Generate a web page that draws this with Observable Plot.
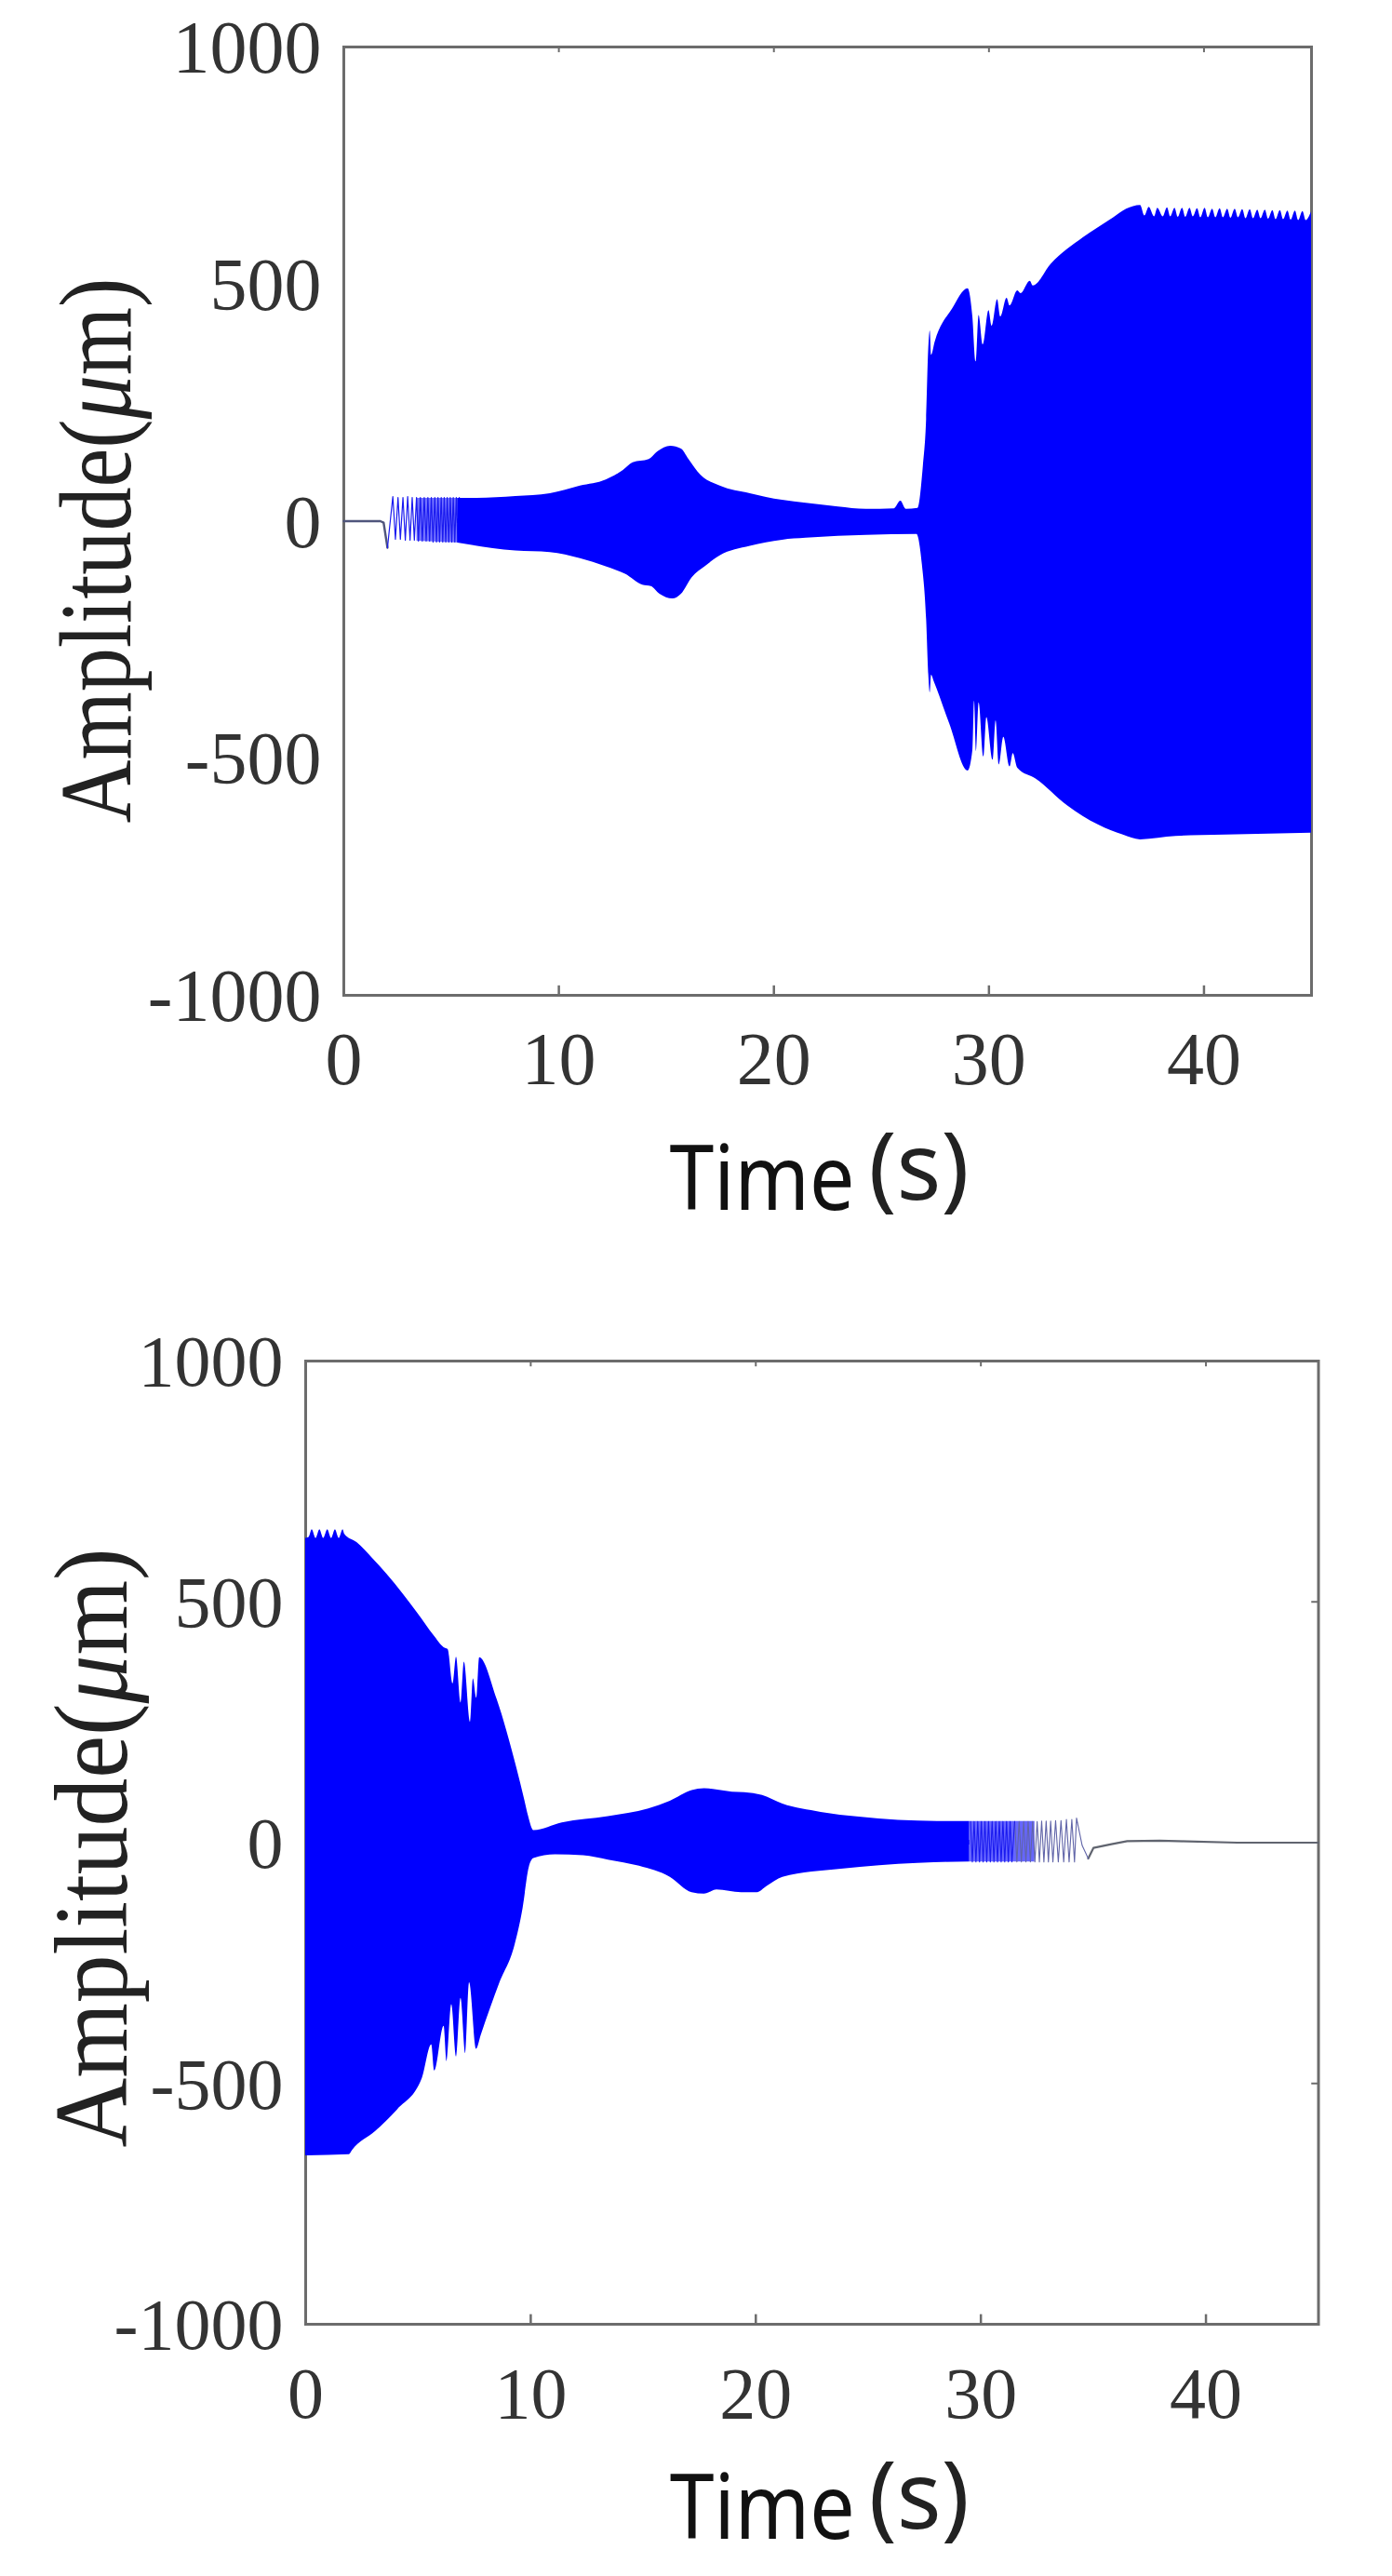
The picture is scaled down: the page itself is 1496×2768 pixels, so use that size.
<!DOCTYPE html>
<html><head><meta charset="utf-8">
<script src="https://cdn.jsdelivr.net/npm/d3@7"></script>
<script src="https://cdn.jsdelivr.net/npm/@observablehq/plot@0.6"></script>
<style>
html,body{margin:0;padding:0;background:#fff}
svg{display:block;filter:blur(0.7px)}
</style></head><body><div id="chart"></div>
<script>
const xTicks=[0,10,20,30,40];
const yTicks=[-1000,-500,0,500,1000];
const xLabelMain="Time", xLabelUnit="(s)", yLabel="Amplitude(μm)";

// Upper chart: envelope
const t1Up=[5.3,6.2,8,9.6,11,12.2,13,13.45,14.2,14.6,15.2,15.7,16.05,16.6,17.5,18.9,20.4,21.5,23,24.3,25.6,25.9,26.15,26.7,26.95,27.1,27.2,27.27,27.33,27.5,28.3,29.03,29.25,29.4,29.54,29.73,30,30.15,30.4,30.55,30.84,30.98,31.34,31.49,31.92,32.06,32.9,34.4,35.8,36.4,37.05,37.25,37.45,37.7,37.85,38.1,38.3,38.45,38.65,38.8,39.0,39.15,39.35,39.5,39.7,39.85,40.05,40.2,40.4,40.55,40.75,40.9,41.1,41.25,41.45,41.6,41.8,41.95,42.15,42.3,42.5,42.65,42.85,43.0,43.2,43.35,43.55,43.7,43.9,44.05,44.25,44.4,44.6,44.75,45];
const a1Up=[48,48,52,58,74,87,107,123,130,146,158,152,130,97,74,58,44,38,30,25,26,42,25,27,117,215,365,401,350,378,447,490,431,336,434,372,444,411,467,431,470,454,486,480,506,496,542,598,640,658,666,644,662,642,660,642,661,642,660,641,660,641,660,642,659,640,660,640,658,640,659,640,658,639,658,640,657,638,657,638,656,638,656,637,655,636,655,636,654,635,654,634,653,634,652];
const t1Dn=[5.3,8,9.6,11,12.2,13.1,13.9,14.3,14.7,15.3,15.7,16.2,16.8,17.5,18.9,20.4,21.5,23,24.3,26.65,26.9,27.1,27.2,27.27,27.33,27.45,28.17,29.03,29.25,29.33,29.42,29.54,29.76,29.9,30.19,30.33,30.48,30.69,30.98,31.13,31.34,32.2,33.65,35.1,36.25,37.05,38.7,41,43,45];
const a1Dn=[-46,-63,-66,-79,-96,-112,-135,-138,-154,-164,-154,-119,-96,-73,-53,-40,-36,-32,-30,-28,-91,-207,-324,-362,-325,-338,-427,-527,-484,-380,-486,-383,-497,-414,-504,-421,-514,-456,-518,-490,-521,-544,-600,-641,-662,-672,-665,-662,-660,-658];
// Upper chart: individual swings at the start of the run
const t1Flat=[0,1.7,1.85,2.03];
const a1Flat=[0,0,-3,-56];
const t1Osc=[2.03,2.28,2.4,2.52,2.63,2.75,2.86,2.97,3.08,3.18,3.28,3.38,3.47,3.56,3.65,3.74,3.83,3.91,3.99,4.07,4.15,4.23,4.31,4.38,4.45,4.53,4.6,4.67,4.74,4.81,4.88,4.95,5.02,5.09,5.16,5.23,5.3,5.37,5.44];
const a1Osc=[-56,52,-38,50,-38,50,-40,52,-40,50,-40,50,-42,50,-42,50,-42,50,-42,50,-44,50,-44,50,-44,50,-44,50,-44,50,-44,50,-44,50,-44,50,-44,50,-44];
const t1Haze=[3.4,5.4];
const a1HazeUp=[48,48];
const a1HazeDn=[-42,-46];

// Lower chart: envelope
const t2Up=[0,0.15,0.29,0.46,0.63,0.8,0.98,1.15,1.32,1.49,1.66,1.74,2.28,2.98,3.6,4.35,5,5.7,6.15,6.33,6.55,6.7,6.9,7.05,7.32,7.45,7.6,7.73,8.5,9.38,9.73,9.9,10.14,11.4,13.45,15.24,16.2,17.17,17.72,18.96,19.5,20.3,21.2,22.9,24.6,28.07,29.5];
const a2Up=[632,634,650,632,650,632,650,632,650,632,650,640,623,590,558,515,475,430,405,401,330,385,290,375,250,340,300,384,298,155,89,55,25,41,54,70,86,108,112,105,104,98,80,63,53,44,44];
const t2Dn=[0,0.08,1.94,2.08,3.1,4.08,5.18,5.6,5.73,6.15,6.28,6.49,6.7,6.9,7.11,7.28,7.59,7.8,8.63,9.3,9.66,9.93,10.14,11.1,12.35,13.45,14.83,16.2,17.17,17.72,18.27,19.37,20.06,20.5,21.2,23.8,27.2,29.5];
const a2Dn=[-650,-650,-648,-639,-600,-555,-490,-420,-474,-381,-455,-336,-445,-323,-439,-291,-429,-400,-291,-213,-136,-52,-33,-25,-27,-36,-49,-72,-104,-107,-98,-104,-104,-91,-72,-55,-43,-40];
// Lower chart: individual swings at the end of the run
const t2Haze=[29.5,32.4];
const a2HazeUp=[44,44];
const a2HazeDn=[-40,-40];
const t2Osc=[29.54,29.62,29.7,29.78,29.86,29.94,30.02,30.1,30.18,30.26,30.34,30.42,30.5,30.58,30.66,30.74,30.82,30.9,30.98,31.06,31.14,31.22,31.3,31.38,31.5];
const a2Osc=[44,-40,44,-40,44,-40,44,-40,44,-40,44,-40,44,-40,44,-40,44,-40,44,-40,44,-40,44,-40,44];
const t2Fade=[31.5,31.6,31.7,31.8,31.9,32,32.1,32.2,32.3,32.4,32.5,32.6,32.7,32.8,32.9,33,33.1,33.2,33.32,33.44,33.56,33.68,33.8,33.92,34.04,34.16,34.25,34.5,34.77];
const a2Fade=[44,-40,44,-40,44,-40,44,-40,44,-40,44,-40,45,-40,45,-40,45,-40,46,-40,46,-40,48,-40,48,-40,51,-6,-33];
const t2Tail=[34.77,35,35.8,36.5,37.95,41.4,45];
const a2Tail=[-33,-11,-3,3,4,0,0];

const zip=(t,a)=>t.map((x,i)=>({t:x,a:a[i]}));
const zip3=(t,u,d)=>t.map((x,i)=>({t:x,u:u[i],d:d[i]}));
const BLUE="#0000ff", INK="#333333", FRAME="#6c6c6c";
const SERIF="Liberation Serif", SANS="Noto Sans";

function axes(tickFont,yPad,xPad,yDy){
  return [
    Plot.frame({stroke:FRAME,strokeWidth:3}),
    Plot.ruleX(xTicks.slice(1),{y1:-1000,y2:-980,stroke:FRAME,strokeWidth:2.5}),
    Plot.ruleX(xTicks.slice(1),{y1:1000,y2:988,stroke:FRAME,strokeWidth:2}),
    Plot.ruleY([-500,500],{x1:45,x2:44.7,stroke:FRAME,strokeWidth:2}),
    Plot.axisX(xTicks,{anchor:"bottom",tickSize:0,tickPadding:xPad,fontSize:tickFont,fontFamily:SERIF,fill:INK,tickFormat:String,label:null}),
    Plot.axisY(yTicks,{anchor:"left",tickSize:0,tickPadding:yPad,fontSize:tickFont,fontFamily:SERIF,fill:INK,tickFormat:String,label:null,dy:yDy})
  ];
}
function labels(o){
  return [
    Plot.text([xLabelMain],{frameAnchor:"bottom",dx:o.tx,dy:230,textAnchor:"start",lineAnchor:"bottom",fontSize:97,fontFamily:SANS,fill:"#111"}),
    Plot.text([xLabelUnit],{frameAnchor:"bottom",dx:o.ux,dy:219,textAnchor:"start",lineAnchor:"bottom",fontSize:100,fontFamily:SANS,fill:"#222"}),
    Plot.text([yLabel],{frameAnchor:"left",dx:o.yx,dy:o.yy,rotate:-90,textAnchor:"middle",lineAnchor:"bottom",fontSize:o.yFont,fontFamily:SERIF,fill:"#222"})
  ];
}
function finish(svg,yScale){
  d3.select(svg).selectAll("text").each(function(){
    const s=d3.select(this), c=this.textContent;
    if(c===xLabelMain){s.attr("textLength",199).attr("lengthAdjust","spacingAndGlyphs");}
    if(c===yLabel){
      s.text(null);
      s.append("tspan").text("Amplitude(");
      s.append("tspan").attr("font-style","italic").text("μ");
      s.append("tspan").text("m)");
      s.attr("transform",s.attr("transform")+` scale(${yScale},1)`);
    }
  });
  return svg;
}
const SMOOTH="monotone-x";

const top1=Plot.plot({
  width:1496,height:1384,marginLeft:369,marginRight:87,marginTop:50,marginBottom:315,
  x:{domain:[0,45]},y:{domain:[-1000,1000]},
  marks:[
    ...axes(80,24,39,2),
    Plot.line(zip(t1Flat,a1Flat),{x:"t",y:"a",stroke:"#50567c",strokeWidth:2.4}),
    Plot.areaY(zip3(t1Haze,a1HazeUp,a1HazeDn),{x:"t",y1:"d",y2:"u",fill:BLUE,fillOpacity:0.55}),
    Plot.line(zip(t1Osc,a1Osc),{x:"t",y:"a",stroke:"#1a1af0",strokeWidth:1.2}),
    Plot.areaY(zip(t1Up,a1Up),{x:"t",y1:-5,y2:"a",fill:BLUE,curve:SMOOTH}),
    Plot.areaY(zip(t1Dn,a1Dn),{x:"t",y1:5,y2:"a",fill:BLUE,curve:SMOOTH}),
    ...labels({tx:-170,ux:44,yx:-230,yy:31.5,yFont:110})
  ]
});
const bottom1=Plot.plot({
  width:1496,height:1384,marginLeft:328,marginRight:79.5,marginTop:78,marginBottom:271,
  x:{domain:[0,45]},y:{domain:[-1000,1000]},
  marks:[
    ...axes(78,24,45,2),
    Plot.line(zip(t2Tail,a2Tail),{x:"t",y:"a",stroke:"#60646f",strokeWidth:2.2}),
    Plot.areaY(zip3(t2Haze,a2HazeUp,a2HazeDn),{x:"t",y1:"d",y2:"u",fill:BLUE,fillOpacity:0.6}),
    Plot.line(zip(t2Fade,a2Fade),{x:"t",y:"a",stroke:"#6064a8",strokeWidth:1.1}),
    Plot.line(zip(t2Osc,a2Osc),{x:"t",y:"a",stroke:"#1a1af0",strokeWidth:1.1}),
    Plot.areaY(zip(t2Up,a2Up),{x:"t",y1:-5,y2:"a",fill:BLUE,curve:SMOOTH}),
    Plot.areaY(zip(t2Dn,a2Dn),{x:"t",y1:5,y2:"a",fill:BLUE,curve:SMOOTH}),
    ...labels({tx:-153,ux:61,yx:-193,yy:5.5,yFont:112})
  ]
});
const host=document.getElementById("chart");
host.append(finish(top1,0.856),finish(bottom1,0.924));
</script></body></html>
